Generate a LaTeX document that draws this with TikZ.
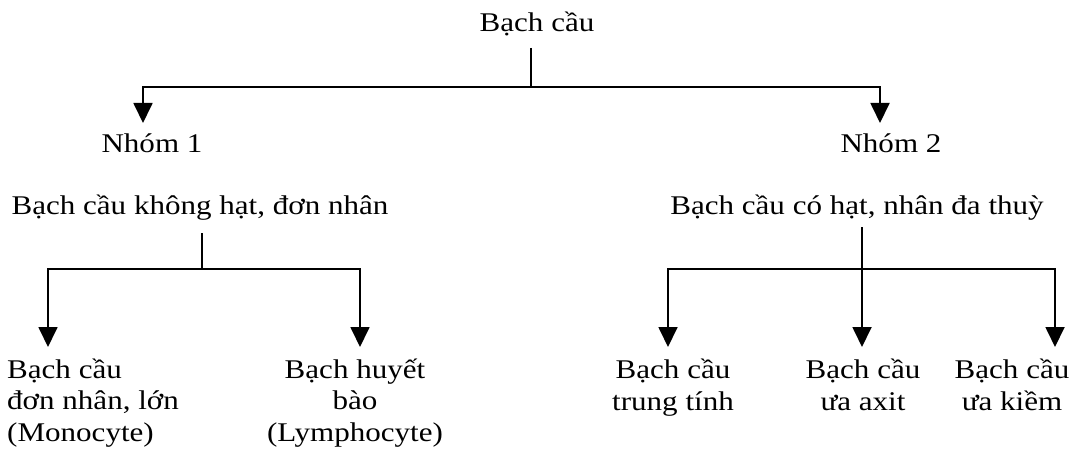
\documentclass[tikz,border=0pt]{standalone}
\usepackage{fontspec}
\setmainfont{Liberation Serif}[FakeStretch=1.15]
\usetikzlibrary{arrows.meta}
\begin{document}
\begin{tikzpicture}[x=1pt,y=-1pt,
  lbl/.style={inner sep=0pt,font=\fontsize{27}{31.5}\selectfont},
  conn/.style={line width=1.8pt},
  arr/.style={conn,-{Triangle[width=19pt,length=20pt]}}]
\useasboundingbox (0,0) rectangle (1078,473);
% nodes (multi-line nodes are anchored at the baseline of their last line)
\node[lbl,anchor=base] (root) at (537,32) {Bạch cầu};
\node[lbl,anchor=base] (g1) at (152,153) {Nhóm 1};
\node[lbl,anchor=base] (g2) at (891,153) {Nhóm 2};
\node[lbl,anchor=base] (d1) at (200,214) {Bạch cầu không hạt, đơn nhân};
\node[lbl,anchor=base] (d2) at (857,214) {Bạch cầu có hạt, nhân đa thuỳ};
\node[lbl,anchor=base west,align=left] (l1) at (7,441) {Bạch cầu\\đơn nhân, lớn\\(Monocyte)};
\node[lbl,anchor=base,align=center] (l2) at (355,441) {Bạch huyết\\bào\\(Lymphocyte)};
\node[lbl,anchor=base,align=center] (l3) at (673,410) {Bạch cầu\\trung tính};
\node[lbl,anchor=base,align=center] (l4) at (863,410) {Bạch cầu\\ưa axit};
\node[lbl,anchor=base,align=center] (l5) at (1012,410) {Bạch cầu\\ưa kiềm};
% connector points
\coordinate (r0) at (531,48);
\coordinate (rb) at (531,87);
\coordinate (a1) at (143,123);
\coordinate (a2) at (880,123);
\coordinate (p0) at (202,233);
\coordinate (pb) at (202,269);
\coordinate (b1) at (48,347);
\coordinate (b2) at (360,347);
\coordinate (q0) at (862,227);
\coordinate (qb) at (862,269);
\coordinate (c1) at (668,347);
\coordinate (c2) at (862,347);
\coordinate (c3) at (1055,347);
% connectors
\draw[conn] (r0) -- (rb);
\draw[arr] (rb) -| (a1);
\draw[arr] (rb) -| (a2);
\draw[conn] (p0) -- (pb);
\draw[arr] (pb) -| (b1);
\draw[arr] (pb) -| (b2);
\draw[conn] (q0) -- (qb);
\draw[arr] (qb) -| (c1);
\draw[arr] (qb) -- (c2);
\draw[arr] (qb) -| (c3);
\end{tikzpicture}
\end{document}
